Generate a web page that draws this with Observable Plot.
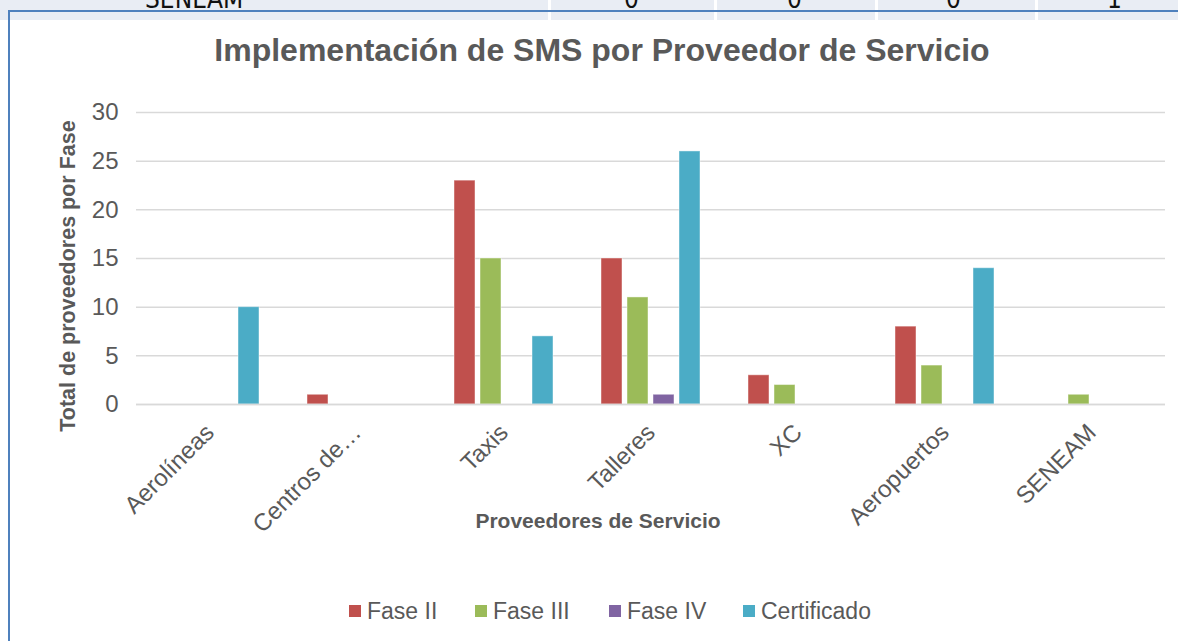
<!DOCTYPE html>
<html>
<head>
<meta charset="utf-8">
<script src="https://cdn.jsdelivr.net/npm/d3@7"></script>
<script src="https://cdn.jsdelivr.net/npm/@observablehq/plot@0.6"></script>
<style>
  html, body { margin: 0; padding: 0; background: #fff; }
  #wrap { position: relative; width: 1178px; height: 641px; overflow: hidden; font-family: "Liberation Sans", Arial, sans-serif; background: #fff; }
  #strip { position: absolute; left: 0; top: 0; width: 1178px; height: 20px; background: #e9edf4; overflow: hidden; }
  .sep { position: absolute; top: 0; width: 3px; height: 20px; background: #fff; }
  .cell { position: absolute; top: -14px; font-family: "Liberation Sans Narrow", "DejaVu Sans Condensed", sans-serif; font-size: 26px; color: #111; line-height: 26px; }
  #borderTop { position: absolute; left: 8px; top: 10px; width: 1170px; height: 2px; background: #4f81bd; }
  #borderLeft { position: absolute; left: 8px; top: 10px; width: 2px; height: 631px; background: #4f81bd; }
  #chart { position: absolute; left: 0; top: 0; }
  #title { position: absolute; left: 602px; top: 50px; transform: translate(-50%, -50%); font-size: 32px; font-weight: bold; color: #595959; white-space: nowrap; }
  #ytitle { position: absolute; left: 68px; top: 276px; transform: translate(-50%, -50%) rotate(-90deg); font-size: 21.5px; font-weight: bold; color: #595959; white-space: nowrap; }
  #xtitle { position: absolute; left: 598px; top: 521px; transform: translate(-50%, -50%); font-size: 21px; font-weight: bold; color: #595959; white-space: nowrap; }
  #legend { position: absolute; left: 0; top: 0; width: 1178px; height: 641px; font-size: 23px; color: #595959; }
  .item { position: absolute; top: 597px; height: 28px; display: flex; align-items: center; white-space: nowrap; }
  .sw { width: 12px; height: 12px; margin-right: 6px; }
</style>
</head>
<body>
<div id="wrap">
  <div id="strip"></div>
  <div id="chart"></div>
  <div id="borderTop"></div>
  <div id="borderLeft"></div>
  <div id="title"></div>
  <div id="ytitle"></div>
  <div id="xtitle"></div>
  <div id="legend"></div>
</div>
<script>
const categories = ["Aerolíneas", "Centros de…", "Taxis", "Talleres", "XC", "Aeropuertos", "SENEAM"];
const series = ["Fase II", "Fase III", "Fase IV", "Certificado"];
const faseII      = [0, 1, 23, 15, 3, 8, 0];
const faseIII     = [0, 0, 15, 11, 2, 4, 1];
const faseIV      = [0, 0, 0, 1, 0, 0, 0];
const certificado = [10, 0, 7, 26, 0, 14, 0];
const colors = ["#c0504d", "#9bbb59", "#8064a2", "#4bacc6"];
const yTicks = [0, 5, 10, 15, 20, 25, 30];
const titleText = "Implementación de SMS por Proveedor de Servicio";
const yTitle = "Total de proveedores por Fase";
const xTitle = "Proveedores de Servicio";
const stripLabels = ["SENEAM", "0", "0", "0", "1"];

// background spreadsheet strip
const strip = document.getElementById("strip");
[548, 714, 875, 1035].forEach(x => { const s = document.createElement("div"); s.className = "sep"; s.style.left = x + "px"; strip.appendChild(s); });
[[145, 0], [624, 1], [787, 2], [946, 3], [1107, 4]].forEach(([x, i]) => {
  const c = document.createElement("div"); c.className = "cell"; c.style.left = x + "px"; c.textContent = stripLabels[i]; strip.appendChild(c);
});

const valuesBySeries = [faseII, faseIII, faseIV, certificado];
const data = [];
categories.forEach((c, i) => series.forEach((s, j) => data.push({category: c, series: s, value: valuesBySeries[j][i]})));

const plot = Plot.plot({
  width: 1178,
  height: 641,
  marginLeft: 135,
  marginRight: 13,
  marginTop: 112,
  marginBottom: 237,
  style: {fontFamily: "'Liberation Sans', Arial, sans-serif", fontSize: "24px", background: "transparent", color: "#595959"},
  fx: {domain: categories, padding: 0, label: null},
  x: {domain: series, paddingInner: 0.2, paddingOuter: 0.87, axis: null},
  y: {domain: [0, 30], ticks: yTicks, label: null},
  color: {domain: series, range: colors},
  marks: [
    Plot.gridY(yTicks, {stroke: "#d9d9d9", strokeOpacity: 1, strokeWidth: 1.5}),
    Plot.axisY(yTicks, {tickSize: 0, tickPadding: 18, fontSize: 24, fill: "#595959", label: null}),
    Plot.axisFx({anchor: "bottom", tickSize: 0, tickRotate: -45, fontSize: 24, fill: "#595959", tickPadding: 24, label: null}),
    Plot.barY(data.filter(d => d.value > 0), {fx: "category", x: "series", y: "value", fill: "series", stroke: "#fff", strokeOpacity: 0.45, strokeWidth: 1}),
    Plot.ruleY([0], {stroke: "#d9d9d9", strokeWidth: 1.5})
  ]
});
document.getElementById("chart").appendChild(plot);

document.getElementById("title").textContent = titleText;
document.getElementById("ytitle").textContent = yTitle;
document.getElementById("xtitle").textContent = xTitle;
const legend = document.getElementById("legend");
const legendLeft = [349, 475, 609, 743];
series.forEach((s, i) => {
  const it = document.createElement("div"); it.className = "item"; it.style.left = legendLeft[i] + "px";
  const sw = document.createElement("div"); sw.className = "sw"; sw.style.background = colors[i];
  const tx = document.createElement("span"); tx.textContent = s;
  it.appendChild(sw); it.appendChild(tx); legend.appendChild(it);
});
</script>
</body>
</html>
